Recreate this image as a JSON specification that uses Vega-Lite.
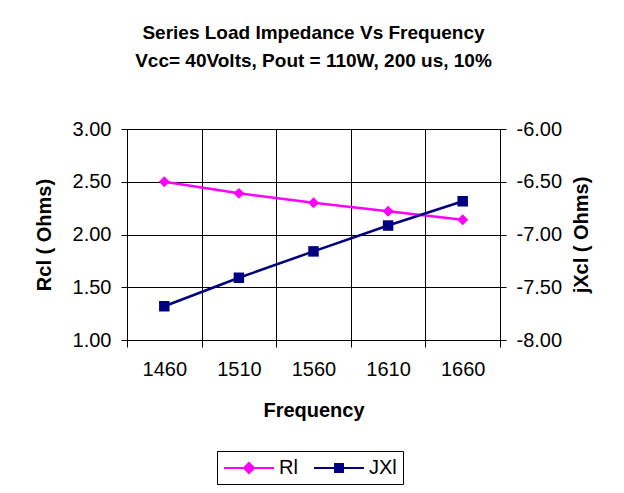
{
  "$schema": "https://vega.github.io/schema/vega-lite/v6.json",
  "width": 373,
  "height": 211,
  "autosize": {"type": "pad"},
  "padding": {"left": 34, "top": 24, "right": 20, "bottom": 5},
  "background": "white",
  "title": {
    "text": ["Series Load Impedance Vs Frequency", "Vcc= 40Volts, Pout = 110W, 200 us, 10%"],
    "font": "Liberation Sans",
    "fontSize": 19,
    "fontWeight": "bold",
    "color": "black",
    "lineHeight": 28,
    "offset": 48,
    "anchor": "middle"
  },
  "data": {
    "values": [
      {"freq": 1460, "Rl": 2.50, "JXl": -7.68},
      {"freq": 1510, "Rl": 2.39, "JXl": -7.41},
      {"freq": 1560, "Rl": 2.30, "JXl": -7.16},
      {"freq": 1610, "Rl": 2.22, "JXl": -6.915},
      {"freq": 1660, "Rl": 2.14, "JXl": -6.685}
    ]
  },
  "encoding": {
    "x": {
      "field": "freq",
      "type": "ordinal",
      "scale": {"type": "band", "paddingInner": 0, "paddingOuter": 0},
      "axis": {
        "title": "Frequency",
        "labelAngle": 0,
        "tickBand": "extent",
        "grid": true,
        "tickSize": 7,
        "labelPadding": 12,
        "titlePadding": 21
      }
    }
  },
  "layer": [
    {
      "encoding": {
        "y": {
          "field": "Rl",
          "type": "quantitative",
          "scale": {"domain": [1, 3], "nice": false, "zero": false},
          "axis": {
            "title": "Rcl ( Ohms)",
            "values": [1, 1.5, 2, 2.5, 3],
            "format": ".2f",
            "grid": true,
            "tickSize": 6,
            "labelPadding": 10,
            "titlePadding": 18
          }
        },
        "color": {
          "datum": "Rl",
          "type": "nominal",
          "scale": {"domain": ["Rl", "JXl"], "range": ["#FF00FF", "#000080"]},
          "legend": {
            "orient": "none",
            "legendX": 90,
            "legendY": 322,
            "direction": "horizontal",
            "title": null,
            "strokeColor": "black",
            "fillColor": "white",
            "padding": 6,
            "labelFontSize": 20,
            "labelFont": "Liberation Sans",
            "labelColor": "black",
            "symbolSize": 400,
            "labelOffset": 34,
            "columnPadding": 12,
            "encode": {
              "symbols": {
                "update": {
                  "shape": {"signal": "datum.value === 'Rl' ? 'M-1,0H4M1.5,-0.5L2,0L1.5,0.5L1,0Z' : 'M-1,0H4M1.1,-0.4H1.9V0.4H1.1Z'"},
                  "stroke": {"signal": "datum.value === 'Rl' ? '#FF00FF' : '#000080'"},
                  "fill": {"signal": "datum.value === 'Rl' ? '#FF00FF' : '#000080'"},
                  "strokeWidth": {"value": 2},
                  "opacity": {"value": 1}
                }
              }
            }
          }
        }
      },
      "layer": [
        {"mark": {"type": "line", "strokeWidth": 2.5}},
        {"mark": {"type": "point", "shape": "diamond", "filled": true, "size": 120, "opacity": 1}}
      ]
    },
    {
      "encoding": {
        "y": {
          "field": "JXl",
          "type": "quantitative",
          "scale": {"domain": [-8, -6], "nice": false, "zero": false},
          "axis": {
            "orient": "right",
            "title": "jXcl ( Ohms)",
            "titleAngle": 270,
            "titleBaseline": "top",
            "values": [-8, -7.5, -7, -6.5, -6],
            "format": ".2f",
            "labelExpr": "replace(datum.label, '\u2212', '-')",
            "grid": false,
            "tickSize": 6,
            "labelPadding": 10,
            "titlePadding": 10
          }
        },
        "color": {
          "datum": "JXl",
          "type": "nominal",
          "scale": {"domain": ["Rl", "JXl"], "range": ["#FF00FF", "#000080"]},
          "legend": {
            "orient": "none",
            "legendX": 90,
            "legendY": 322,
            "direction": "horizontal",
            "title": null,
            "strokeColor": "black",
            "fillColor": "white",
            "padding": 6,
            "labelFontSize": 20,
            "labelFont": "Liberation Sans",
            "labelColor": "black",
            "symbolSize": 400,
            "labelOffset": 34,
            "columnPadding": 12,
            "encode": {
              "symbols": {
                "update": {
                  "shape": {"signal": "datum.value === 'Rl' ? 'M-1,0H4M1.5,-0.5L2,0L1.5,0.5L1,0Z' : 'M-1,0H4M1.1,-0.4H1.9V0.4H1.1Z'"},
                  "stroke": {"signal": "datum.value === 'Rl' ? '#FF00FF' : '#000080'"},
                  "fill": {"signal": "datum.value === 'Rl' ? '#FF00FF' : '#000080'"},
                  "strokeWidth": {"value": 2},
                  "opacity": {"value": 1}
                }
              }
            }
          }
        }
      },
      "layer": [
        {"mark": {"type": "line", "strokeWidth": 2.5}},
        {"mark": {"type": "point", "shape": "square", "filled": true, "size": 110, "opacity": 1}}
      ]
    }
  ],
  "resolve": {"scale": {"y": "independent"}},
  "config": {
    "view": {"stroke": "black", "strokeWidth": 1},
    "axis": {
      "labelFont": "Liberation Sans",
      "labelFontSize": 20,
      "labelColor": "black",
      "titleFont": "Liberation Sans",
      "titleFontSize": 20,
      "titleFontWeight": "bold",
      "titleColor": "black",
      "domainColor": "black",
      "tickColor": "black",
      "gridColor": "black",
      "gridOpacity": 1
    }
  }
}
